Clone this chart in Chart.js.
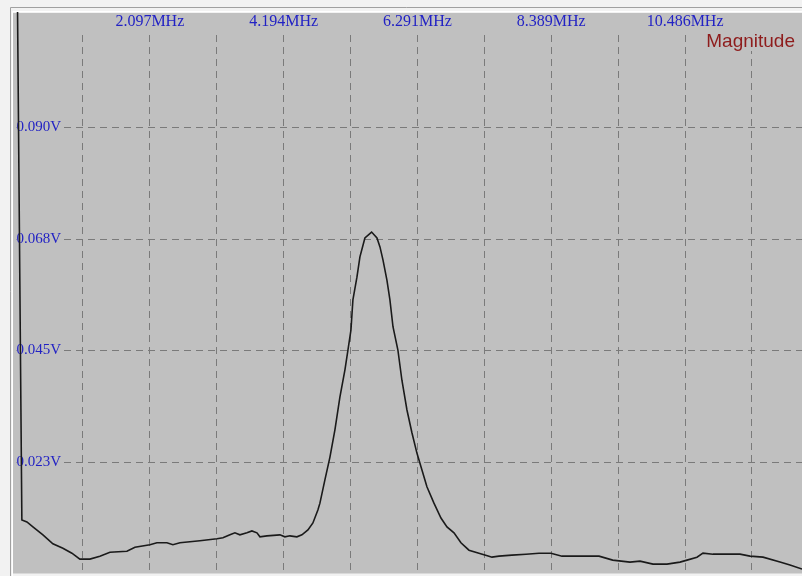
<!DOCTYPE html>
<html>
<head>
<meta charset="utf-8">
<script src="https://cdn.jsdelivr.net/npm/chart.js@4.4.0/dist/chart.umd.min.js"></script>
<style>
  html, body { margin: 0; padding: 0; background: #f2f2f2; }
  #wrap { width: 802px; height: 576px; position: relative; }
</style>
</head>
<body>
<div id="wrap"><canvas id="spectrum"></canvas></div>
<script>
// frequency axis in MHz, one grid step is 2^20 Hz
const gridStepMHz = 1.048576
const xTickLabels = ['', '2.097MHz', '', '4.194MHz', '', '6.291MHz', '', '8.389MHz', '', '10.486MHz', '']

const yTickValues = [0.0225, 0.045, 0.0675, 0.09]
const yTickLabels = ['0.023V', '0.045V', '0.068V', '0.090V']

const freqMHz = [
  0, 0.092, 0.171, 0.265, 0.422, 0.578, 0.735, 0.876, 1.001, 1.158,
  1.315, 1.472, 1.738, 1.864, 2.099, 2.208, 2.365, 2.459, 2.569, 2.882,
  3.149, 3.243, 3.353, 3.431, 3.509, 3.619, 3.697, 3.776, 3.823, 3.932,
  4.136, 4.214, 4.293, 4.402, 4.481, 4.575, 4.653, 4.731, 4.763, 4.841,
  4.920, 4.998, 5.076, 5.155, 5.202, 5.249, 5.280, 5.343, 5.390, 5.468,
  5.573, 5.657, 5.704, 5.751, 5.813, 5.860, 5.908, 5.985, 6.048, 6.127,
  6.205, 6.283, 6.362, 6.440, 6.550, 6.660, 6.754, 6.864, 6.973, 7.099,
  7.255, 7.412, 7.459, 7.569, 7.772, 7.992, 8.196, 8.384, 8.557, 8.823,
  9.137, 9.351, 9.622, 9.779, 9.983, 10.202, 10.406, 10.516, 10.672, 10.766,
  10.923, 11.143, 11.346, 11.503, 11.707, 11.973, 12.130, 12.318
]

const magnitudeV = [
  0.15, 0.0108, 0.0104, 0.0094, 0.0078, 0.0060, 0.0051, 0.0041, 0.0029, 0.0029,
  0.0035, 0.0043, 0.0045, 0.0053, 0.0058, 0.0062, 0.0062, 0.0058, 0.0062, 0.0066,
  0.0070, 0.0072, 0.0078, 0.0082, 0.0078, 0.0082, 0.0086, 0.0082, 0.0074, 0.0076,
  0.0078, 0.0074, 0.0076, 0.0074, 0.0078, 0.0088, 0.0102, 0.0128, 0.0142, 0.0189,
  0.0235, 0.0290, 0.0356, 0.0411, 0.0451, 0.0491, 0.0552, 0.0598, 0.0639, 0.0677,
  0.0689, 0.0677, 0.0659, 0.0633, 0.0592, 0.0552, 0.0498, 0.0451, 0.0390, 0.0330,
  0.0284, 0.0243, 0.0209, 0.0175, 0.0142, 0.0112, 0.0094, 0.0082, 0.0062, 0.0047,
  0.0041, 0.0035, 0.0033, 0.0035, 0.0037, 0.0039, 0.0041, 0.0041, 0.0035, 0.0035,
  0.0035, 0.0027, 0.0023, 0.0025, 0.0019, 0.0019, 0.0023, 0.0027, 0.0033, 0.0041,
  0.0039, 0.0039, 0.0039, 0.0035, 0.0033, 0.0023, 0.0017, 0.0009
]

const seriesName = 'Magnitude'

const plotGray = '#c0c0c0'

// window frame + gray plot panel, and the series name in the corner
const scopeFrame = {
  id: 'scopeFrame',
  beforeDraw(chart) {
    const {ctx, chartArea: ca, width, height} = chart
    ctx.save()
    ctx.fillStyle = '#f2f2f2'
    ctx.fillRect(0, 0, width, height)
    ctx.strokeStyle = '#a0a0a0'
    ctx.lineWidth = 1
    ctx.beginPath()
    ctx.moveTo(10.5, height)
    ctx.lineTo(10.5, 7.5)
    ctx.lineTo(width, 7.5)
    ctx.stroke()
    ctx.strokeStyle = '#ffffff'
    ctx.beginPath()
    ctx.moveTo(12.5, height)
    ctx.lineTo(12.5, 11.5)
    ctx.lineTo(width, 11.5)
    ctx.stroke()
    ctx.fillStyle = plotGray
    ctx.fillRect(ca.left - 3, ca.top - 22, width - ca.left + 3, ca.bottom - ca.top + 22)
    ctx.restore()
  },
  afterDraw(chart) {
    const {ctx, chartArea: ca} = chart
    ctx.save()
    ctx.font = '19px "Liberation Sans", Arial, sans-serif'
    ctx.textAlign = 'right'
    ctx.textBaseline = 'alphabetic'
    const label = chart.data.datasets[0].label
    const w = ctx.measureText(label).width
    ctx.fillStyle = plotGray
    ctx.fillRect(ca.right - 8 - w, ca.top - 3, w + 2, 19)
    ctx.fillStyle = '#8e1c1c'
    ctx.fillText(label, ca.right - 7, ca.top + 12)
    ctx.restore()
  }
}

const chartCtx = document.getElementById('spectrum').getContext('2d')

new Chart(chartCtx, {
  type: 'line',
  data: {
    datasets: [{
      label: seriesName,
      data: freqMHz.map((f, i) => ({x: f, y: magnitudeV[i]})),
      borderColor: '#1a1a1a',
      borderWidth: 1.6,
      pointRadius: 0,
      tension: 0,
      fill: false,
      clip: {left: 3, top: 23, right: 0, bottom: 0},
    }]
  },
  options: {
    responsive: true,
    maintainAspectRatio: false,
    animation: false,
    layout: {
      autoPadding: false,
      padding: {left: 15, right: 0, top: 7.8, bottom: 2.5},
    },
    plugins: {
      legend: {display: false},
      tooltip: {enabled: false},
    },
    scales: {
      x: {
        type: 'linear',
        position: 'top',
        min: 0,
        max: 12.318,
        afterBuildTicks: (axis) => {
          axis.ticks = xTickLabels.map((_, i) => ({value: (i + 1) * gridStepMHz}))
        },
        ticks: {
          autoSkip: false,
          maxRotation: 0,
          padding: 4,
          color: '#2222c4',
          font: {family: '"Liberation Serif", "Times New Roman", serif', size: 16},
          callback: (value, index) => xTickLabels[index],
        },
        grid: {
          color: '#7a7a7a',
          lineWidth: 1,
          drawTicks: false,
        },
        border: {display: false, dash: [7, 5]},
      },
      y: {
        min: 0,
        max: 0.10867,
        afterBuildTicks: (axis) => {
          axis.ticks = yTickValues.map(v => ({value: v}))
        },
        ticks: {
          mirror: true,
          padding: 0.5,
          color: '#2222c4',
          // small line height keeps the mirrored labels from padding the plot bottom
          font: {family: '"Liberation Serif", "Times New Roman", serif', size: 15, lineHeight: 0.25},
          showLabelBackdrop: true,
          backdropColor: plotGray,
          backdropPadding: {top: 1, bottom: 1, left: 0, right: 1},
          callback: (value, index) => yTickLabels[index],
        },
        grid: {
          color: '#7a7a7a',
          lineWidth: 1,
          drawTicks: false,
        },
        border: {display: false, dash: [7, 5]},
      },
    }
  },
  plugins: [scopeFrame],
})
</script>
</body>
</html>
